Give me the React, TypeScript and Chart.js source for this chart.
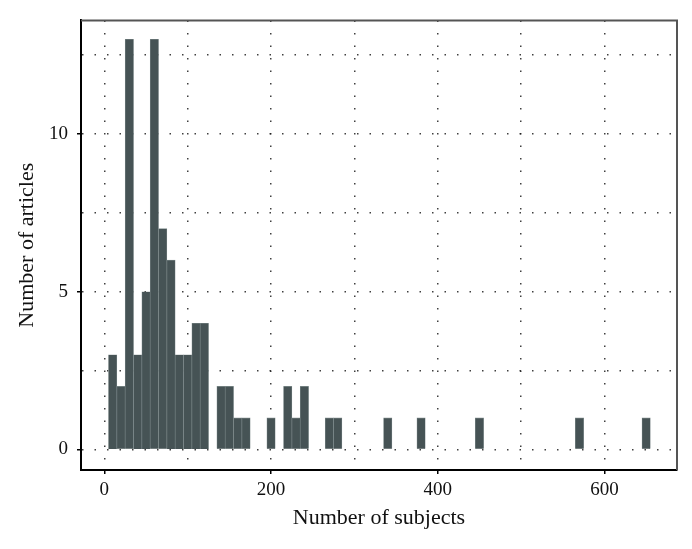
import React, { useEffect, useRef } from "react";
import { Chart, registerables } from "chart.js";

Chart.register(...registerables);

// Histogram bins (centre of each 10-subject bin) and article counts
const binCenters = [10, 20, 30, 40, 50, 60, 70, 80, 90, 100, 110, 120, 140, 150, 160, 170, 200, 220, 230, 240, 270, 280, 340, 380, 450, 570, 650];
const counts = [3, 2, 13, 3, 5, 13, 7, 6, 3, 3, 4, 4, 2, 2, 1, 1, 1, 2, 1, 2, 1, 1, 1, 1, 1, 1, 1];

const xLabeledTicks = [0, 200, 400, 600];
const yLabeledTicks = [0, 5, 10];

const xTitle = "Number of subjects";
const yTitle = "Number of articles";

const FONT = "'Liberation Serif', 'Times New Roman', serif";

const framePlugin = {
  id: "frame",
  afterDraw(chart: any) {
    const { ctx, chartArea } = chart;
    const { left, top, right, bottom } = chartArea;
    ctx.save();
    ctx.setLineDash([]);
    ctx.strokeStyle = "#555";
    ctx.lineWidth = 2;
    ctx.beginPath();
    ctx.moveTo(left, top);
    ctx.lineTo(right, top);
    ctx.lineTo(right, bottom);
    ctx.stroke();
    ctx.restore();
  },
};

export default function App() {
  const ref = useRef<HTMLCanvasElement | null>(null);

  useEffect(() => {
    if (!ref.current) return;
    const data = binCenters.map((x, i) => ({ x, y: counts[i] }));
    const chart = new Chart(ref.current, {
      type: "bar",
      data: {
        datasets: [
          {
            data: data as any,
            backgroundColor: "#465355",
            borderColor: "#7f8c8d",
            borderWidth: 0.6,
            barPercentage: 1,
            categoryPercentage: 1,
          },
        ],
      },
      options: {
        responsive: false,
        animation: false,
        devicePixelRatio: 1,
        layout: { padding: { left: 0, top: 14, right: 15, bottom: 0 } },
        plugins: {
          legend: { display: false },
          tooltip: { enabled: false },
        },
        scales: {
          x: {
            type: "linear",
            min: -28,
            max: 687,
            offset: false,
            afterFit: (s: any) => {
              s.height = 79;
            },
            grid: {
              offset: false,
              color: "rgba(30,30,30,0.85)",
              lineWidth: 1.5,
              tickLength: 4,
              tickColor: (ctx: any) =>
                xLabeledTicks.includes(ctx.tick?.value) ? "#000" : "rgba(0,0,0,0)",
              tickWidth: 1.5,
              tickBorderDash: [],
            } as any,
            border: { color: "#000", width: 2, dash: [1.5, 11] },
            ticks: {
              stepSize: 100,
              includeBounds: false,
              autoSkip: false,
              maxRotation: 0,
              padding: 5,
              color: "#111",
              font: { family: FONT, size: 19 },
              callback: (v: any) => (xLabeledTicks.includes(Number(v)) ? String(v) : ""),
            },
            title: {
              display: true,
              text: xTitle,
              color: "#111",
              font: { family: FONT, size: 22 },
              padding: { top: 0, bottom: 17.8 },
            },
          },
          y: {
            type: "linear",
            min: -0.65,
            max: 13.6,
            afterFit: (s: any) => {
              s.width = 81;
            },
            grid: {
              color: "rgba(30,30,30,0.85)",
              lineWidth: 1.5,
              tickLength: 4,
              tickColor: (ctx: any) =>
                yLabeledTicks.includes(ctx.tick?.value) ? "#000" : "rgba(0,0,0,0)",
              tickWidth: 1.5,
              tickBorderDash: [],
            } as any,
            border: { color: "#000", width: 2, dash: [1.5, 11] },
            ticks: {
              stepSize: 2.5,
              includeBounds: false,
              autoSkip: false,
              padding: 9,
              color: "#111",
              font: { family: FONT, size: 19 },
              callback: (v: any) => (yLabeledTicks.includes(Number(v)) ? String(v) : ""),
            },
            title: {
              display: true,
              text: yTitle,
              color: "#111",
              font: { family: FONT, size: 22 },
              padding: { top: 13.8, bottom: 0 },
            },
          },
        },
      },
      plugins: [framePlugin],
    });
    return () => chart.destroy();
  }, []);

  return (
    <div style={{ position: "fixed", left: 0, top: 0, width: 692, height: 549, background: "#fff" }}>
      <canvas ref={ref} width={692} height={549} style={{ display: "block", width: 692, height: 549 }} />
    </div>
  );
}
